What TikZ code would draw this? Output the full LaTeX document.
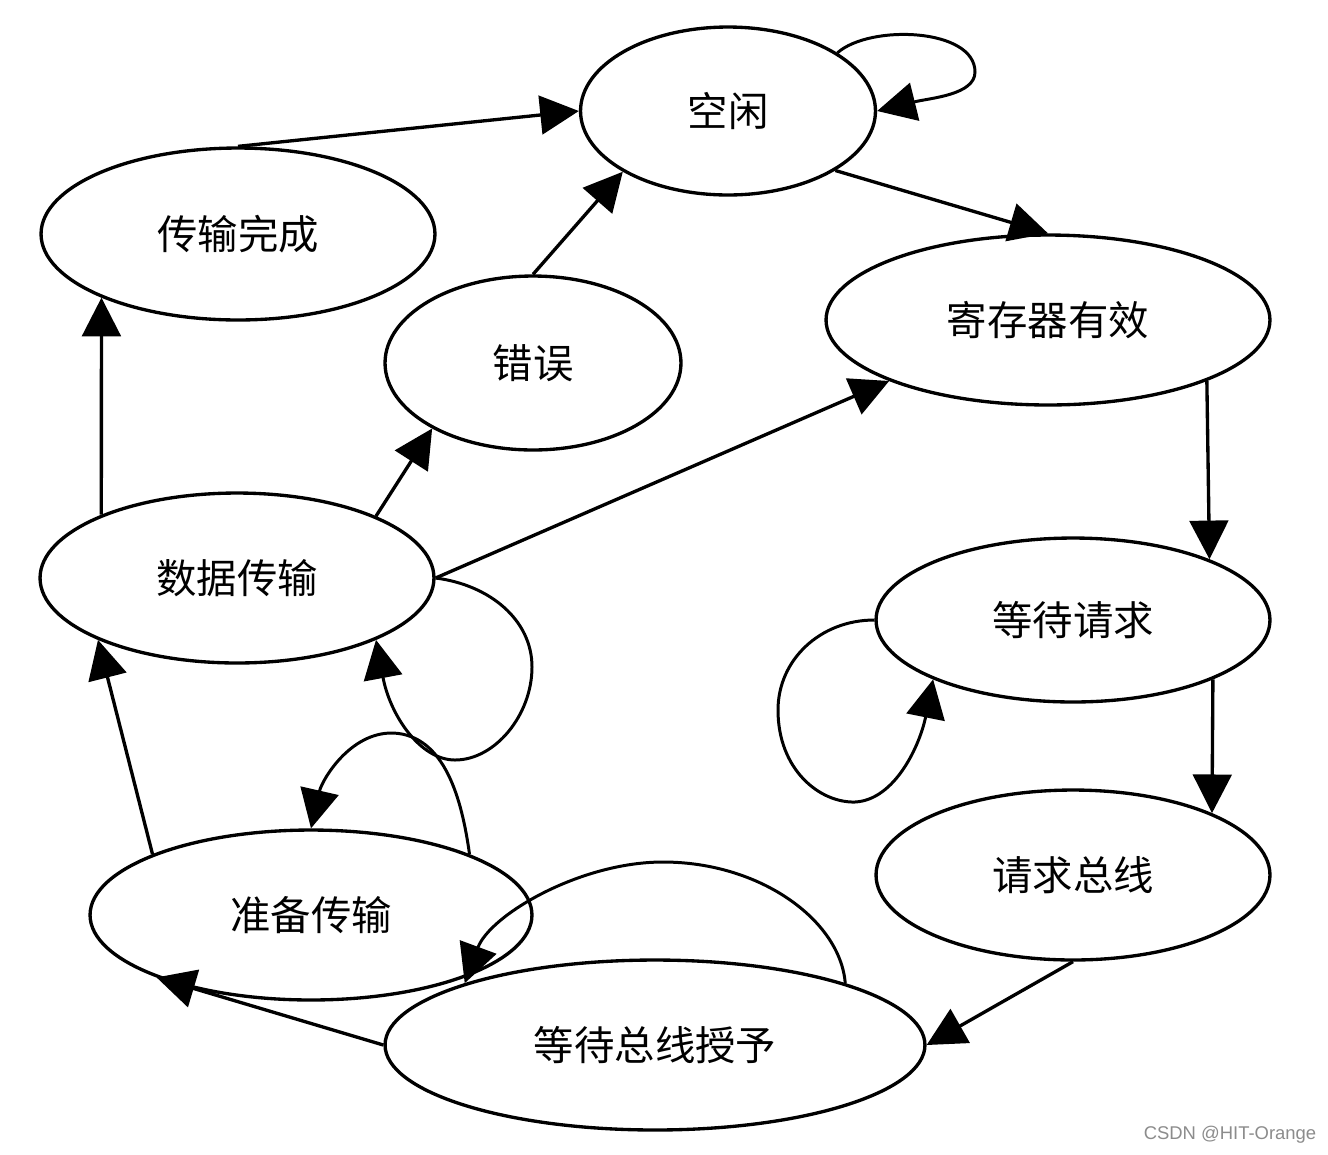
\documentclass[tikz,border=0pt]{standalone}
\usepackage{fontspec}
\newfontfamily\cjk{Noto Sans CJK SC}
\newfontfamily\wmfont{Liberation Sans}
\usetikzlibrary{shapes.geometric,arrows.meta}
\begin{document}
\begin{tikzpicture}[x=0.02cm,y=-0.02cm,
  st/.style={ellipse,draw,line width=1.9pt,inner sep=0pt,font=\cjk\fontsize{23}{27}\selectfont},
  ar/.style={line width=1.9pt,-{Triangle[length=22pt,width=22pt]}},
  lp/.style={line width=1.7pt,-{Triangle[length=22pt,width=22pt]}}]
\useasboundingbox (0,0) rectangle (1328,1154);
\fill[white] (0,0) rectangle (1328,1154);
\node[st,minimum width=5.9cm,minimum height=3.36cm] (kx) at (728,111) {空闲};
\node[st,minimum width=7.88cm,minimum height=3.44cm] (wc) at (238,234) {传输完成};
\node[st,minimum width=8.88cm,minimum height=3.4cm] (jc) at (1048,320) {寄存器有效};
\node[st,minimum width=5.92cm,minimum height=3.48cm] (cw) at (533,363) {错误};
\node[st,minimum width=7.88cm,minimum height=3.4cm] (ds) at (237,578) {数据传输};
\node[st,minimum width=7.88cm,minimum height=3.28cm] (dq) at (1073,620) {等待请求};
\node[st,minimum width=7.88cm,minimum height=3.4cm] (qz) at (1073,875) {请求总线};
\node[st,minimum width=8.84cm,minimum height=3.4cm] (zb) at (311,915) {准备传输};
\node[st,minimum width=10.8cm,minimum height=3.4cm] (dg) at (655,1045) {等待总线授予};
% straight edges
\draw[ar] (wc.north) -- (kx.west);
\draw[ar] (kx.-29) -- (jc.north);
\draw[ar] (cw.north) -- (kx.-150);
\draw[ar] (jc.-21.5) -- (dq.24);
\draw[ar] (ds.155.6) -- (wc.-155.7);
\draw[ar] (ds.24.4) -- (cw.-147.3);
\draw[ar] (ds.east) -- (jc.-159.2);
\draw[ar] (zb.159) -- (ds.-156);
\draw[ar] (dq.-23.3) -- (qz.24.4);
\draw[ar] (qz.south) -- (dg.east);
\draw[ar] (dg.west) -- (zb.-158.3);
% loops
\draw[lp] (kx.28) .. controls (870,24) and (975,28) .. (975,72) .. controls (975,95) and (930,98) .. (kx.east);
\draw[lp] (ds.east) .. controls (490,585) and (532,620) .. (532,667) .. controls (532,715) and (495,760) .. (455,760) .. controls (420,760) and (390,715) .. (ds.-24);
\draw[lp] (zb.21) .. controls (462,800) and (445,735) .. (393,733) .. controls (350,732) and (322,780) .. (zb.north);
\draw[lp] (dq.west) .. controls (820,620) and (778,660) .. (778,710) .. controls (778,770) and (820,803) .. (855,802) .. controls (895,800) and (920,745) .. (dq.-157);
\draw[lp] (dg.18) .. controls (840,920) and (760,862) .. (663,862) .. controls (580,862) and (490,915) .. (dg.162);
\node[text=black!45,font=\wmfont\fontsize{10.5}{12}\selectfont] (wm) at (1230,1135) {CSDN @HIT-Orange};
\end{tikzpicture}
\end{document}
